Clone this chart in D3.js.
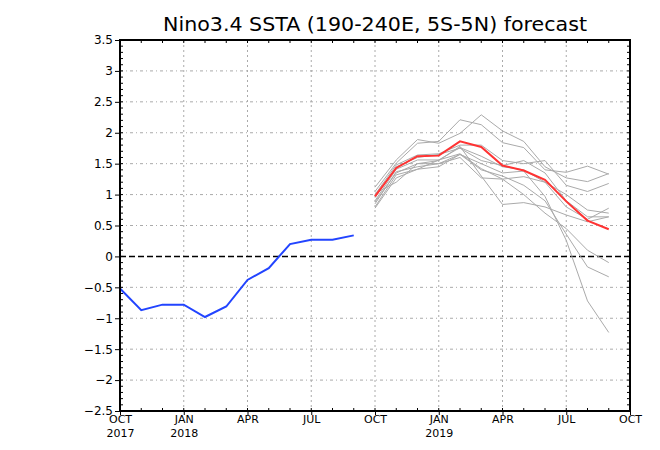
<!DOCTYPE html>
<html>
<head>
<meta charset="utf-8">
<script src="https://cdn.jsdelivr.net/npm/d3@7"></script>
<style>
  body { margin: 0; background: #fff; }
  text { font-family: "DejaVu Sans", sans-serif; fill: #000; }
</style>
</head>
<body>
<div id="chart"></div>
<script>
// months counted from OCT 2017 (0) to OCT 2019 (24)
var tickMonths = [0, 3, 6, 9, 12, 15, 18, 21, 24];
var tickNames = ["OCT", "JAN", "APR", "JUL", "OCT", "JAN", "APR", "JUL", "OCT"];
var tickYears = ["2017", "2018", "", "", "", "2019", "", "", ""];
var yTicks = [-2.5, -2, -1.5, -1, -0.5, 0, 0.5, 1, 1.5, 2, 2.5, 3, 3.5];

// observed SSTA, OCT 2017 - SEP 2018
var obsMonths = [0, 1, 2, 3, 4, 5, 6, 7, 8, 9, 10, 11];
var observed = [-0.52, -0.87, -0.78, -0.78, -0.98, -0.81, -0.38, -0.19, 0.20, 0.27, 0.27, 0.34];

// forecast, OCT 2018 - SEP 2019
var fcMonths = [12, 13, 14, 15, 16, 17, 18, 19, 20, 21, 22, 23];
var ensMean = [0.97, 1.43, 1.62, 1.63, 1.86, 1.77, 1.47, 1.39, 1.24, 0.89, 0.58, 0.44];
var members = [
  [1.12, 1.56, 1.89, 1.83, 1.99, 2.29, 2.03, 1.86, 1.45, 1.27, 1.21, 1.34],
  [1.05, 1.51, 1.83, 1.86, 2.21, 2.13, 1.84, 1.76, 1.40, 1.36, 1.46, 1.33],
  [1.00, 1.48, 1.64, 1.66, 1.80, 1.80, 1.55, 1.50, 1.55, 1.15, 1.05, 1.18],
  [0.95, 1.45, 1.60, 1.65, 1.75, 1.55, 1.47, 1.55, 1.35, 0.90, 0.64, 0.64],
  [0.90, 1.41, 1.56, 1.56, 1.76, 1.62, 1.45, 1.40, 1.20, 0.80, 0.60, 0.78],
  [0.85, 1.37, 1.45, 1.50, 1.65, 1.40, 1.30, 1.15, 0.90, 0.36, -0.17, -0.33],
  [0.80, 1.32, 1.41, 1.45, 1.65, 1.50, 1.35, 1.38, 0.97, 0.26, -0.72, -1.23],
  [0.78, 1.27, 1.41, 1.56, 1.66, 1.42, 1.25, 1.00, 0.70, 0.45, 0.10, -0.10],
  [0.88, 1.35, 1.50, 1.55, 1.78, 1.30, 0.84, 0.87, 0.80, 0.67, 0.56, 0.64],
  [1.02, 1.20, 1.50, 1.50, 1.60, 1.27, 1.25, 1.29, 1.20, 1.00, 0.75, 0.70]
];

var W = 660, H = 450;
var margin = {top: 40, right: 30, bottom: 39, left: 120},
    width = W - margin.left - margin.right,
    height = H - margin.top - margin.bottom;

var svg = d3.select("#chart").append("svg")
    .attr("width", W).attr("height", H);

var g = svg.append("g")
    .attr("transform", "translate(" + margin.left + "," + margin.top + ")");

var x = d3.scaleLinear().domain([0, 24]).range([0, width]);
var y = d3.scaleLinear().domain([-2.5, 3.5]).range([height, 0]);

// grid
g.append("g").selectAll("line").data(yTicks.filter(function(d) { return d !== 0; }))
  .enter().append("line")
    .attr("x1", 0).attr("x2", width)
    .attr("y1", function(d) { return y(d); }).attr("y2", function(d) { return y(d); })
    .attr("stroke", "#aaa").attr("stroke-width", 1)
    .attr("stroke-dasharray", "3,3,1,3");
g.append("g").selectAll("line").data(tickMonths.slice(1, -1))
  .enter().append("line")
    .attr("x1", function(d) { return x(d); }).attr("x2", function(d) { return x(d); })
    .attr("y1", 0).attr("y2", height)
    .attr("stroke", "#aaa").attr("stroke-width", 1)
    .attr("stroke-dasharray", "2,3");

// zero line
g.append("line")
  .attr("x1", 0).attr("x2", width).attr("y1", y(0)).attr("y2", y(0))
  .attr("stroke", "#000").attr("stroke-width", 1.5)
  .attr("stroke-dasharray", "6,3");

var line = d3.line()
  .x(function(d) { return x(d[0]); })
  .y(function(d) { return y(d[1]); });

// ensemble members
g.append("g").selectAll("path").data(members)
  .enter().append("path")
    .attr("d", function(m) { return line(d3.zip(fcMonths, m)); })
    .attr("fill", "none").attr("stroke", "#aaa").attr("stroke-width", 1);

// ensemble mean
g.append("path")
  .attr("d", line(d3.zip(fcMonths, ensMean)))
  .attr("fill", "none").attr("stroke", "#ff3333").attr("stroke-width", 2);

// observed
g.append("path")
  .attr("d", line(d3.zip(obsMonths, observed)))
  .attr("fill", "none").attr("stroke", "#2244ff").attr("stroke-width", 2);

// frame with small inward minor ticks
g.append("rect")
  .attr("width", width).attr("height", height)
  .attr("fill", "none").attr("stroke", "#000").attr("stroke-width", 2);
var minorX = d3.range(0, 25);
g.append("g").selectAll("line").data(minorX).enter().append("line")
  .attr("x1", function(d) { return x(d); }).attr("x2", function(d) { return x(d); })
  .attr("y1", 0).attr("y2", 3).attr("stroke", "#000");
g.append("g").selectAll("line").data(minorX).enter().append("line")
  .attr("x1", function(d) { return x(d); }).attr("x2", function(d) { return x(d); })
  .attr("y1", height).attr("y2", height - 3).attr("stroke", "#000");
var minorY = d3.range(-2.5, 3.51, 0.1);
g.append("g").selectAll("line").data(minorY).enter().append("line")
  .attr("x1", width).attr("x2", width - 3)
  .attr("y1", function(d) { return y(d); }).attr("y2", function(d) { return y(d); })
  .attr("stroke", "#000");
g.append("g").selectAll("line").data(minorY).enter().append("line")
  .attr("x1", 0).attr("x2", 3)
  .attr("y1", function(d) { return y(d); }).attr("y2", function(d) { return y(d); })
  .attr("stroke", "#000");

// y axis
var yAxis = g.append("g")
  .call(d3.axisLeft(y).tickValues(yTicks).tickSize(5).tickPadding(2)
        .tickFormat(function(d) { return d3.format("")(d).replace("-", "\u2212"); }));
yAxis.select(".domain").remove();
yAxis.selectAll("text").style("font-size", "12px");

// x axis
var xAxis = g.append("g")
  .attr("transform", "translate(0," + height + ")")
  .call(d3.axisBottom(x).tickValues(tickMonths).tickSize(4).tickPadding(0)
        .tickFormat(function(d, i) { return tickNames[i]; }));
xAxis.select(".domain").remove();
xAxis.selectAll("text").style("font-size", "11px");
xAxis.selectAll(".tick").append("text")
  .attr("y", 18).attr("dy", "0.71em")
  .attr("fill", "#000").attr("text-anchor", "middle")
  .style("font-size", "11px")
  .text(function(d, i) { return tickYears[i]; });

// title
svg.append("text")
  .attr("x", 375).attr("y", 31)
  .attr("text-anchor", "middle")
  .attr("textLength", 424).attr("lengthAdjust", "spacingAndGlyphs")
  .style("font-size", "20px")
  .text("Nino3.4 SSTA (190-240E, 5S-5N) forecast");
</script>
</body>
</html>
